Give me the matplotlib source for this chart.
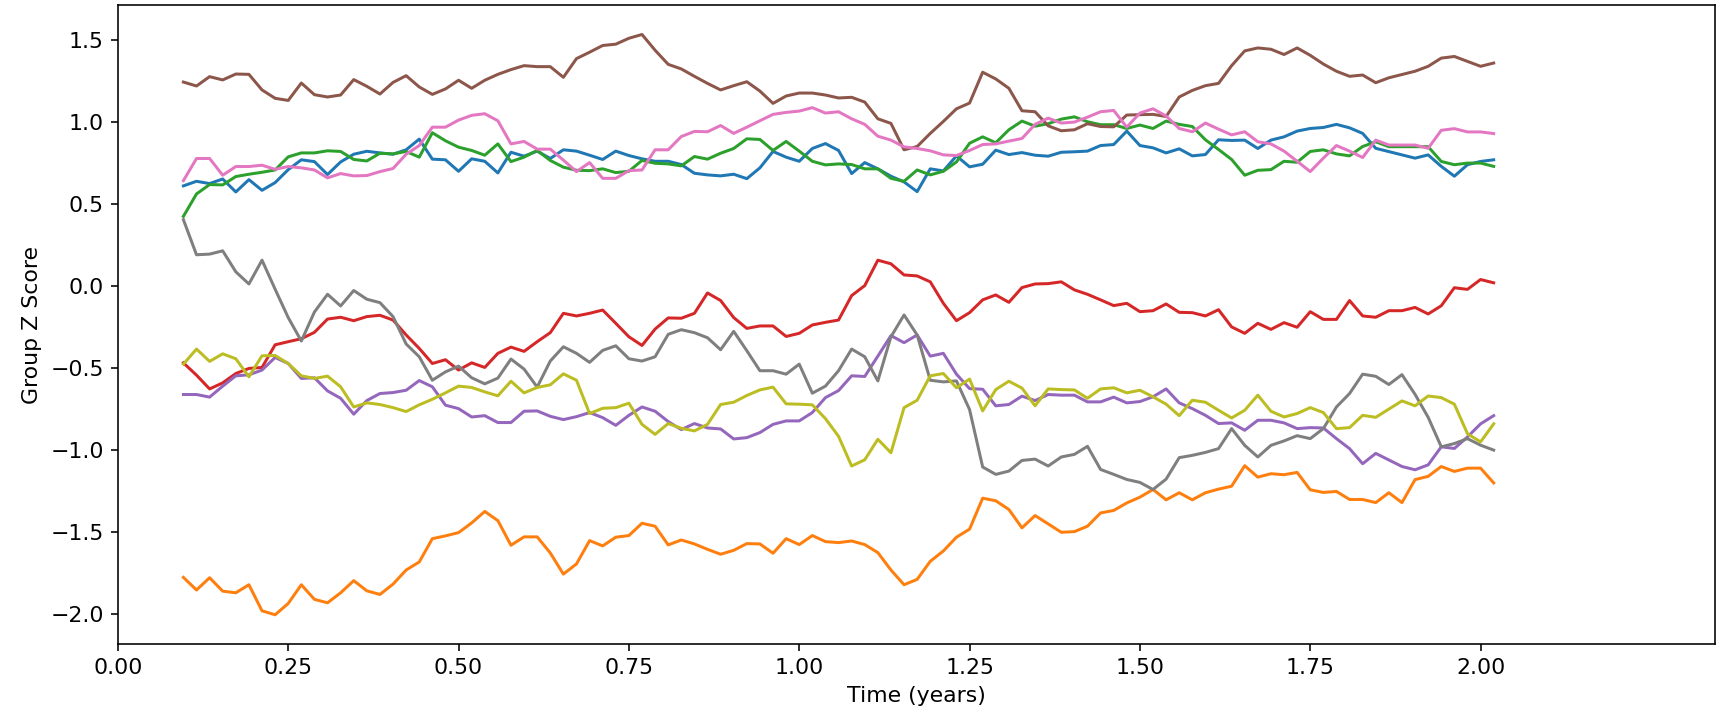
import numpy as np
import matplotlib
matplotlib.use("Agg")
import matplotlib.pyplot as plt

# weekly group z scores, one list per group
blue = [0.611, 0.639, 0.625, 0.653, 0.574, 0.649, 0.584, 0.631, 0.710, 0.770, 0.759, 0.680, 0.757, 0.804, 0.822, 0.812, 0.804, 0.831, 0.896, 0.774, 0.770, 0.700, 0.776,
        0.761, 0.690, 0.816, 0.792, 0.823, 0.778, 0.831, 0.823, 0.798, 0.772, 0.823, 0.796, 0.776, 0.761, 0.761, 0.741, 0.688, 0.678, 0.672, 0.682, 0.655, 0.721,
        0.821, 0.786, 0.761, 0.839, 0.869, 0.827, 0.686, 0.753, 0.715, 0.670, 0.635, 0.576, 0.715, 0.702, 0.794, 0.727, 0.743, 0.829, 0.802, 0.814, 0.798, 0.792, 0.816,
        0.819, 0.823, 0.857, 0.863, 0.945, 0.857, 0.843, 0.812, 0.837, 0.794, 0.802, 0.892, 0.888, 0.890, 0.839, 0.890, 0.910, 0.945, 0.961, 0.967, 0.986, 0.965, 0.931,
        0.84, 0.82, 0.80, 0.78, 0.80, 0.73, 0.67, 0.74, 0.76, 0.77]
orange = [-1.776, -1.853, -1.778, -1.860, -1.870, -1.821, -1.980, -2.004, -1.935, -1.821, -1.910, -1.931, -1.870, -1.796, -1.858, -1.880, -1.817, -1.731, -1.682, -1.540, -1.523, -1.503, -1.444,
          -1.374, -1.430, -1.580, -1.529, -1.529, -1.627, -1.756, -1.694, -1.552, -1.584, -1.531, -1.521, -1.446, -1.464, -1.578, -1.548, -1.572, -1.605, -1.635, -1.611, -1.570, -1.572,
          -1.629, -1.540, -1.576, -1.521, -1.558, -1.564, -1.554, -1.576, -1.625, -1.731, -1.821, -1.788, -1.678, -1.615, -1.531, -1.482, -1.293, -1.309, -1.362, -1.474, -1.399, -1.450, -1.501,
          -1.497, -1.464, -1.383, -1.368, -1.322, -1.287, -1.240, -1.303, -1.260, -1.303, -1.260, -1.238, -1.220, -1.095, -1.165, -1.144, -1.150, -1.136, -1.242, -1.258, -1.252, -1.301, -1.301,
          -1.32, -1.26, -1.32, -1.18, -1.16, -1.10, -1.13, -1.11, -1.11, -1.20]
green = [0.425, 0.562, 0.619, 0.617, 0.668, 0.682, 0.694, 0.708, 0.788, 0.812, 0.812, 0.825, 0.821, 0.772, 0.763, 0.810, 0.806, 0.821, 0.786, 0.935, 0.886, 0.847, 0.827,
         0.798, 0.867, 0.759, 0.786, 0.827, 0.766, 0.725, 0.706, 0.704, 0.715, 0.692, 0.700, 0.766, 0.749, 0.745, 0.733, 0.790, 0.774, 0.810, 0.839, 0.898, 0.894,
         0.827, 0.882, 0.823, 0.761, 0.739, 0.745, 0.741, 0.715, 0.715, 0.657, 0.639, 0.708, 0.678, 0.700, 0.757, 0.871, 0.910, 0.874, 0.953, 1.006, 0.975, 0.990, 1.018,
         1.032, 1.002, 0.984, 0.984, 0.961, 0.982, 0.961, 1.006, 0.986, 0.973, 0.892, 0.833, 0.772, 0.676, 0.706, 0.710, 0.761, 0.755, 0.821, 0.831, 0.806, 0.794, 0.851,
         0.88, 0.85, 0.85, 0.85, 0.85, 0.76, 0.74, 0.75, 0.75, 0.73]
red = [-0.468, -0.543, -0.627, -0.590, -0.533, -0.502, -0.496, -0.358, -0.339, -0.321, -0.282, -0.201, -0.190, -0.211, -0.186, -0.178, -0.207, -0.298, -0.380, -0.472, -0.449, -0.512, -0.468,
       -0.496, -0.410, -0.372, -0.398, -0.339, -0.284, -0.166, -0.182, -0.166, -0.146, -0.227, -0.309, -0.362, -0.262, -0.194, -0.196, -0.166, -0.042, -0.088, -0.192, -0.258, -0.243,
       -0.243, -0.307, -0.288, -0.237, -0.221, -0.207, -0.058, 0.003, 0.158, 0.136, 0.068, 0.062, 0.026, -0.105, -0.211, -0.162, -0.084, -0.054, -0.099, -0.009, 0.013, 0.015, 0.026,
       -0.023, -0.050, -0.084, -0.119, -0.105, -0.156, -0.150, -0.109, -0.160, -0.162, -0.182, -0.144, -0.249, -0.288, -0.227, -0.264, -0.223, -0.251, -0.156, -0.203, -0.203, -0.088, -0.182,
       -0.19, -0.15, -0.15, -0.13, -0.17, -0.12, -0.01, -0.02, 0.04, 0.02]
purple = [-0.661, -0.661, -0.677, -0.610, -0.547, -0.541, -0.512, -0.435, -0.472, -0.563, -0.559, -0.639, -0.684, -0.781, -0.698, -0.655, -0.649, -0.635, -0.576, -0.614, -0.726, -0.747, -0.798,
          -0.790, -0.832, -0.832, -0.763, -0.761, -0.794, -0.814, -0.796, -0.771, -0.802, -0.849, -0.788, -0.737, -0.763, -0.826, -0.875, -0.838, -0.865, -0.871, -0.932, -0.924, -0.893,
          -0.843, -0.822, -0.822, -0.771, -0.680, -0.637, -0.547, -0.551, -0.427, -0.302, -0.345, -0.298, -0.427, -0.410, -0.537, -0.625, -0.629, -0.730, -0.722, -0.671, -0.698, -0.661, -0.665,
          -0.665, -0.706, -0.706, -0.677, -0.712, -0.704, -0.675, -0.627, -0.712, -0.747, -0.788, -0.838, -0.834, -0.879, -0.818, -0.818, -0.834, -0.869, -0.863, -0.865, -0.930, -0.991, -1.083,
          -1.02, -1.06, -1.10, -1.12, -1.09, -0.98, -0.99, -0.92, -0.84, -0.79]
brown = [1.244, 1.220, 1.277, 1.257, 1.293, 1.291, 1.196, 1.145, 1.132, 1.238, 1.167, 1.153, 1.165, 1.259, 1.218, 1.171, 1.242, 1.283, 1.214, 1.169, 1.202, 1.255, 1.206,
         1.255, 1.291, 1.320, 1.344, 1.338, 1.338, 1.273, 1.387, 1.426, 1.467, 1.475, 1.511, 1.534, 1.438, 1.352, 1.324, 1.279, 1.236, 1.196, 1.222, 1.246, 1.189,
         1.114, 1.159, 1.177, 1.177, 1.165, 1.147, 1.151, 1.122, 1.020, 0.992, 0.831, 0.851, 0.931, 1.004, 1.081, 1.116, 1.304, 1.263, 1.206, 1.069, 1.063, 0.977, 0.947,
         0.953, 0.990, 0.973, 0.971, 1.043, 1.045, 1.047, 1.034, 1.153, 1.193, 1.222, 1.236, 1.344, 1.434, 1.452, 1.444, 1.412, 1.452, 1.407, 1.354, 1.310, 1.279, 1.287,
         1.24, 1.27, 1.29, 1.31, 1.34, 1.39, 1.40, 1.37, 1.34, 1.36]
pink = [0.643, 0.778, 0.778, 0.676, 0.729, 0.729, 0.737, 0.712, 0.729, 0.721, 0.708, 0.660, 0.686, 0.672, 0.674, 0.698, 0.717, 0.804, 0.857, 0.969, 0.969, 1.012, 1.041,
        1.051, 1.008, 0.867, 0.882, 0.835, 0.835, 0.768, 0.698, 0.753, 0.657, 0.657, 0.704, 0.708, 0.831, 0.831, 0.912, 0.943, 0.941, 0.979, 0.931, 0.969, 1.008,
        1.047, 1.059, 1.067, 1.088, 1.055, 1.063, 1.020, 0.986, 0.914, 0.890, 0.849, 0.839, 0.825, 0.800, 0.796, 0.827, 0.863, 0.867, 0.884, 0.900, 0.986, 1.024, 0.994,
        1.000, 1.030, 1.063, 1.071, 0.969, 1.055, 1.081, 1.037, 0.961, 0.941, 0.994, 0.957, 0.922, 0.941, 0.880, 0.867, 0.823, 0.761, 0.698, 0.780, 0.857, 0.823, 0.784,
        0.89, 0.86, 0.86, 0.86, 0.84, 0.95, 0.96, 0.94, 0.94, 0.93]
gray = [0.405, 0.191, 0.195, 0.215, 0.087, 0.013, 0.158, -0.019, -0.192, -0.335, -0.158, -0.050, -0.121, -0.027, -0.080, -0.101, -0.186, -0.353, -0.431, -0.574, -0.523, -0.488, -0.559,
        -0.596, -0.561, -0.445, -0.506, -0.616, -0.457, -0.370, -0.410, -0.465, -0.392, -0.364, -0.443, -0.457, -0.431, -0.294, -0.266, -0.284, -0.315, -0.388, -0.276, -0.394, -0.516,
        -0.516, -0.537, -0.476, -0.653, -0.610, -0.516, -0.384, -0.431, -0.578, -0.309, -0.176, -0.298, -0.574, -0.584, -0.578, -0.753, -1.103, -1.148, -1.128, -1.063, -1.055, -1.097, -1.042,
        -1.026, -0.977, -1.118, -1.148, -1.179, -1.197, -1.240, -1.177, -1.046, -1.032, -1.014, -0.991, -0.869, -0.971, -1.042, -0.971, -0.944, -0.912, -0.930, -0.869, -0.737, -0.655, -0.537,
        -0.55, -0.60, -0.54, -0.66, -0.80, -0.98, -0.96, -0.93, -0.97, -1.00]
olive = [-0.476, -0.384, -0.459, -0.413, -0.443, -0.553, -0.425, -0.423, -0.472, -0.547, -0.563, -0.549, -0.614, -0.737, -0.712, -0.722, -0.741, -0.765, -0.724, -0.690, -0.651, -0.610, -0.618,
         -0.645, -0.669, -0.580, -0.651, -0.618, -0.602, -0.535, -0.574, -0.777, -0.745, -0.741, -0.714, -0.843, -0.904, -0.838, -0.867, -0.883, -0.843, -0.722, -0.708, -0.667, -0.633,
         -0.616, -0.718, -0.720, -0.724, -0.808, -0.916, -1.097, -1.059, -0.934, -1.016, -0.741, -0.696, -0.547, -0.533, -0.620, -0.567, -0.761, -0.631, -0.580, -0.622, -0.730, -0.627, -0.631,
         -0.633, -0.684, -0.627, -0.620, -0.651, -0.635, -0.675, -0.720, -0.790, -0.696, -0.708, -0.757, -0.804, -0.757, -0.665, -0.763, -0.798, -0.777, -0.741, -0.771, -0.869, -0.863, -0.788,
         -0.80, -0.75, -0.70, -0.73, -0.67, -0.68, -0.72, -0.90, -0.95, -0.84]

groups = [blue, orange, green, red, purple, brown, pink, gray, olive]
first_week = 5


def main():
    weeks = np.arange(first_week, first_week + len(blue))
    t = weeks / 52

    fig = plt.figure(figsize=(1726 / 144, 712 / 144), dpi=144)
    ax = fig.add_axes([0.0683, 0.0958, 0.9253, 0.8965])
    for i, vals in enumerate(groups):
        ax.plot(t, vals, color="C%d" % i, linewidth=1.5)

    ax.set_xlim(0, 2.344)
    ax.set_xticks(np.arange(0, 2.01, 0.25))
    ax.set_xticklabels(["%.2f" % v for v in np.arange(0, 2.01, 0.25)])
    ax.tick_params(labelsize=11)
    ax.set_xlabel("Time (years)", fontsize=11)
    ax.set_ylabel("Group Z Score", fontsize=11)

    fig.savefig("out.png", dpi=144)


if __name__ == "__main__":
    main()
